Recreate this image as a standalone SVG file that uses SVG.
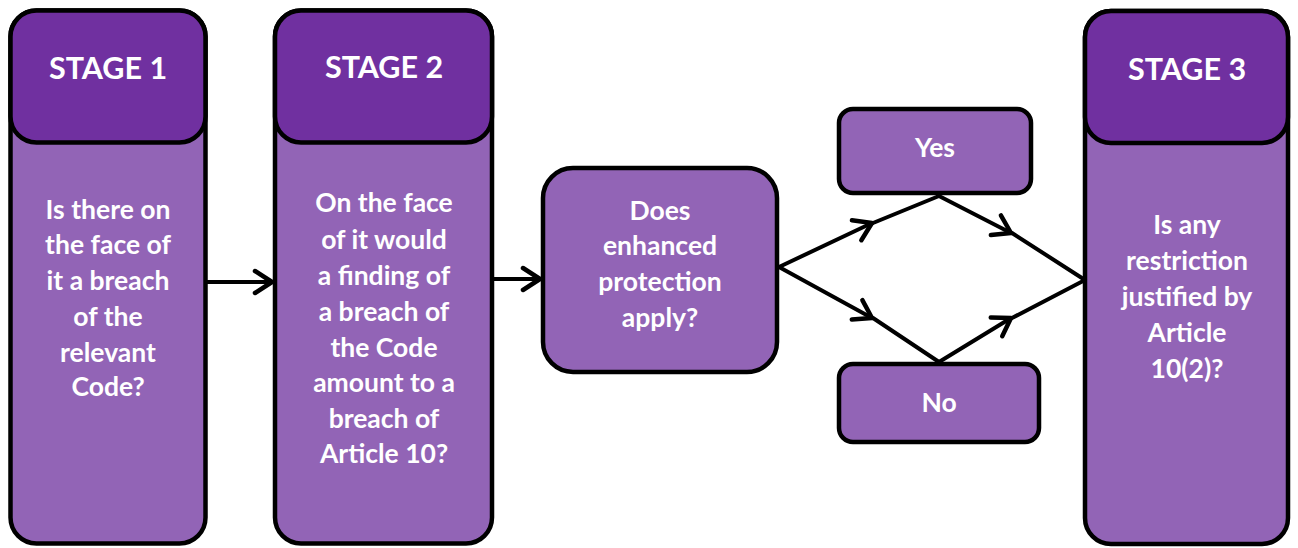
<svg xmlns="http://www.w3.org/2000/svg" width="1298" height="548" viewBox="0 0 1298 548">
<defs>
<style>
.box{fill:#9264B6;stroke:#000;stroke-width:4.5}
.head{fill:#7030A0;stroke:#000;stroke-width:4.5}
.title{font-family:Lato,"Open Sans",sans-serif;font-weight:bold;font-size:30.5px;fill:#fff;text-anchor:middle}
.txt{font-family:Lato,"Open Sans",sans-serif;font-weight:bold;font-size:26.5px;fill:#fff;text-anchor:middle}
.ln{stroke:#000;stroke-width:4;fill:none;stroke-linecap:round}
</style>
<marker id="ah2" viewBox="0 0 28 28" refX="25" refY="14" markerWidth="28" markerHeight="28" markerUnits="userSpaceOnUse" orient="auto">
<path d="M8,3 L25,14 L8,25" fill="none" stroke="#000" stroke-width="4.5" stroke-linecap="round" stroke-linejoin="round"/>
</marker>
</defs>
<rect width="1298" height="548" fill="#fff"/>

<g id="stage1">
<rect class="box" x="10.5" y="10.5" width="195" height="533" rx="26"/>
<rect class="head" x="10.5" y="10.5" width="195" height="132" rx="26"/>
<text class="title" x="108" y="79">STAGE 1</text>
<text class="txt" x="108" y="219">Is there on</text>
<text class="txt" x="108" y="254">the face of</text>
<text class="txt" x="108" y="290">it a breach</text>
<text class="txt" x="108" y="326">of the</text>
<text class="txt" x="108" y="362">relevant</text>
<text class="txt" x="108" y="396">Code?</text>
</g>

<g id="stage2">
<rect class="box" x="275" y="10.5" width="217" height="533" rx="26"/>
<rect class="head" x="275" y="10.5" width="217" height="132" rx="26"/>
<text class="title" x="384" y="78">STAGE 2</text>
<text class="txt" x="384" y="212">On the face</text>
<text class="txt" x="384" y="249">of it would</text>
<text class="txt" x="384" y="285">a finding of</text>
<text class="txt" x="384" y="321">a breach of</text>
<text class="txt" x="384" y="357">the Code</text>
<text class="txt" x="384" y="392">amount to a</text>
<text class="txt" x="384" y="428">breach of</text>
<text class="txt" x="384" y="463">Article 10?</text>
</g>

<g id="enhanced">
<rect class="box" x="543" y="168" width="234" height="204" rx="30"/>
<text class="txt" x="660" y="220">Does</text>
<text class="txt" x="660" y="255">enhanced</text>
<text class="txt" x="660" y="291">protection</text>
<text class="txt" x="660" y="327">apply?</text>
</g>

<g id="yes">
<rect class="box" x="839" y="109" width="192" height="84" rx="14"/>
<text class="txt" x="935" y="157">Yes</text>
</g>

<g id="no">
<rect class="box" x="839" y="364" width="200" height="78" rx="14"/>
<text class="txt" x="939" y="412">No</text>
</g>

<g id="stage3">
<rect class="box" x="1085" y="11" width="203" height="533" rx="26"/>
<rect class="head" x="1085" y="11" width="203" height="132" rx="26"/>
<text class="title" x="1187" y="80">STAGE 3</text>
<text class="txt" x="1187" y="234">Is any</text>
<text class="txt" x="1187" y="270">restriction</text>
<text class="txt" x="1187" y="306">justified by</text>
<text class="txt" x="1187" y="342">Article</text>
<text class="txt" x="1187" y="378">10(2)?</text>
</g>

<g id="connectors">
<line class="ln" x1="207" y1="282" x2="272" y2="282" marker-end="url(#ah2)"/>
<line class="ln" x1="494" y1="279" x2="540" y2="279" marker-end="url(#ah2)"/>
<line class="ln" x1="779" y1="267" x2="872" y2="223" marker-end="url(#ah2)"/>
<line class="ln" x1="873" y1="223" x2="939" y2="196"/>
<line class="ln" x1="939" y1="196" x2="1011" y2="233" marker-end="url(#ah2)"/>
<line class="ln" x1="1012" y1="233" x2="1085" y2="280"/>
<line class="ln" x1="779" y1="267" x2="872" y2="318" marker-end="url(#ah2)"/>
<line class="ln" x1="873" y1="318" x2="939" y2="362"/>
<line class="ln" x1="939" y1="362" x2="1011" y2="318" marker-end="url(#ah2)"/>
<line class="ln" x1="1012" y1="318" x2="1085" y2="280"/>
</g>
</svg>
